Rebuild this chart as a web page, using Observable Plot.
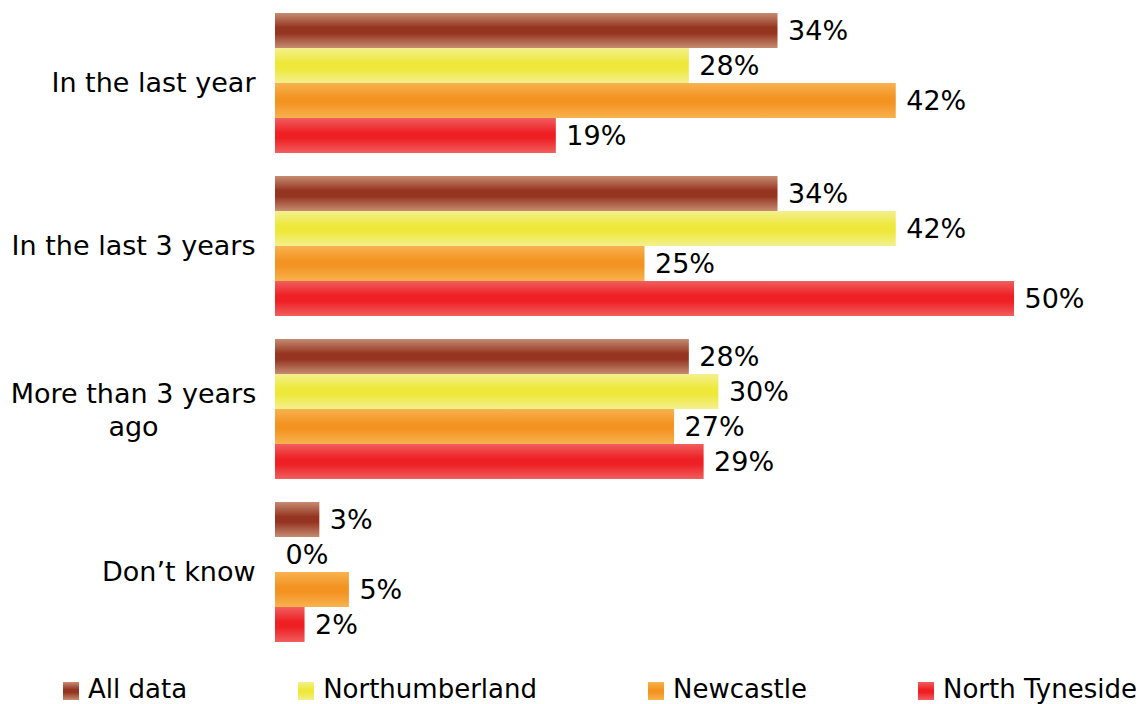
<!DOCTYPE html>
<html>
<head>
<meta charset="utf-8">
<script src="https://cdn.jsdelivr.net/npm/d3@7"></script>
<script src="https://cdn.jsdelivr.net/npm/@observablehq/plot@0.6"></script>
<style>
  html, body { margin: 0; padding: 0; background: #fff; }
  body { width: 1140px; height: 704px; overflow: hidden; font-family: "DejaVu Sans", Verdana, sans-serif; }
  #legend { display: flex; justify-content: space-between; padding: 0 3px 0 63px; margin-top: 18px; font-size: 26px; line-height: 32px; color: #000; }
  .item { display: flex; align-items: center; white-space: nowrap; }
  .sw { width: 16px; height: 18px; margin-right: 9px; margin-top: 3px; }
</style>
</head>
<body>
<div id="chart"></div>
<div id="legend"></div>
<script>
const categories = ["In the last year", "In the last 3 years", "More than 3 years ago", "Don\u2019t know"];
const seriesNames = ["All data", "Northumberland", "Newcastle", "North Tyneside"];
const allData      = [34, 34, 28, 3];
const northumberland = [28, 42, 30, 0];
const newcastle    = [42, 25, 27, 5];
const northTyneside = [19, 50, 29, 2];
const seriesValues = [allData, northumberland, newcastle, northTyneside];
const gradientColors = [
  ["#c58c72", "#953420"],
  ["#f3f08e", "#eee83a"],
  ["#f7b24f", "#f39422"],
  ["#f15e5e", "#ee2024"]
];

const gradIds = seriesNames.map((s, i) => "grad" + i);
const data = [];
categories.forEach((c, ci) => {
  seriesNames.forEach((s, si) => {
    data.push({category: c, series: s, value: seriesValues[si][ci], fill: "url(#" + gradIds[si] + ")"});
  });
});

const singleLine = categories.filter(c => c !== "More than 3 years ago");
const multiLine = ["More than 3 years ago"];

const svg = Plot.plot({
  width: 1140,
  height: 655,
  marginLeft: 275,
  marginRight: 126,
  marginTop: 10,
  marginBottom: 11,
  style: {fontFamily: "DejaVu Sans, Verdana, sans-serif", fontSize: "27px", color: "#000", background: "#fff"},
  x: {domain: [0, 50], axis: null},
  y: {domain: seriesNames, padding: 0, axis: null},
  fy: {domain: categories, paddingInner: 0.134, paddingOuter: 0, axis: null},
  color: {type: "identity"},
  marks: [
    Plot.barX(data, {x: "value", y: "series", fy: "category", fill: "fill"}),
    Plot.text(data, {x: "value", y: "series", fy: "category", text: d => d.value + "%", textAnchor: "start", dx: 10, fontSize: 27, fill: "#000"}),
    Plot.text(singleLine, {fy: d => d, text: d => d, frameAnchor: "left", textAnchor: "end", dx: -20, fontSize: 27, fill: "#000"}),
    Plot.text(multiLine, {fy: d => d, text: d => "More than 3 years\nago", frameAnchor: "left", textAnchor: "middle", dx: -142, lineHeight: 1.22, fontSize: 27, fill: "#000"})
  ]
});

const defs = d3.select(svg).insert("defs", ":first-child");
gradientColors.forEach(([light, dark], i) => {
  const g = defs.append("linearGradient").attr("id", gradIds[i]).attr("x1", 0).attr("y1", 0).attr("x2", 0).attr("y2", 1);
  g.append("stop").attr("offset", "0%").attr("stop-color", light);
  g.append("stop").attr("offset", "42%").attr("stop-color", dark);
  g.append("stop").attr("offset", "58%").attr("stop-color", dark);
  g.append("stop").attr("offset", "100%").attr("stop-color", light);
});

document.getElementById("chart").appendChild(svg);

const legend = document.getElementById("legend");
seriesNames.forEach((s, i) => {
  const item = document.createElement("div");
  item.className = "item";
  const sw = document.createElement("div");
  sw.className = "sw";
  const [light, dark] = gradientColors[i];
  sw.style.background = `linear-gradient(to bottom, ${light} 0%, ${dark} 42%, ${dark} 58%, ${light} 100%)`;
  const label = document.createElement("span");
  label.textContent = s;
  item.appendChild(sw);
  item.appendChild(label);
  legend.appendChild(item);
});
</script>
</body>
</html>
